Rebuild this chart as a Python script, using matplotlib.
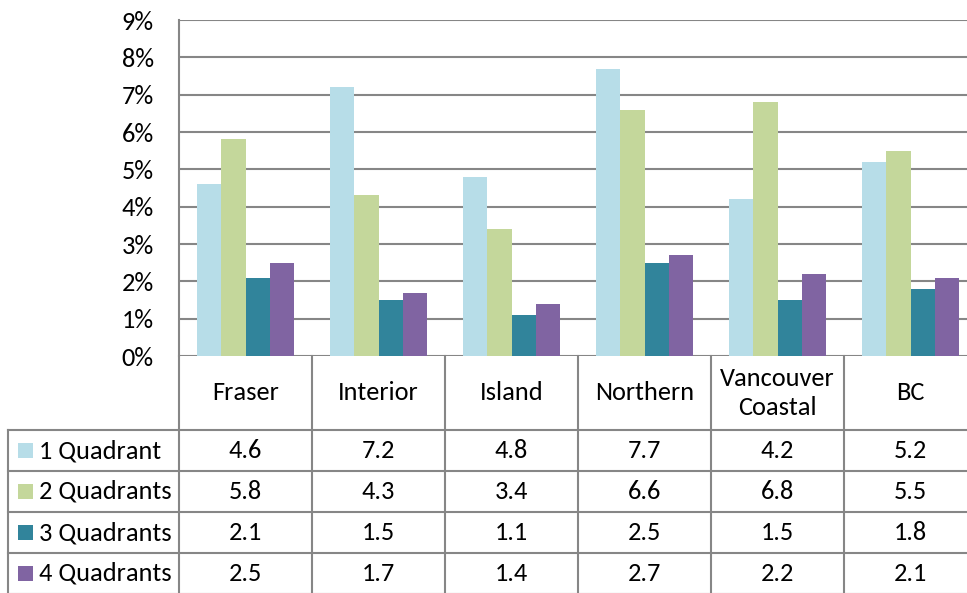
import matplotlib
matplotlib.use("Agg")
import matplotlib.pyplot as plt
from matplotlib.lines import Line2D
from matplotlib.transforms import blended_transform_factory
from matplotlib.ticker import FuncFormatter

plt.rcParams['font.family'] = ['Carlito', 'Lato', 'DejaVu Sans']

categories = ["Fraser", "Interior", "Island", "Northern", "Vancouver\nCoastal", "BC"]
series_names = ["1 Quadrant", "2 Quadrants", "3 Quadrants", "4 Quadrants"]
q1 = [4.6, 7.2, 4.8, 7.7, 4.2, 5.2]
q2 = [5.8, 4.3, 3.4, 6.6, 6.8, 5.5]
q3 = [2.1, 1.5, 1.1, 2.5, 1.5, 1.8]
q4 = [2.5, 1.7, 1.4, 2.7, 2.2, 2.1]
series = [q1, q2, q3, q4]
colors = ["#B7DDE8", "#C4D79B", "#31849B", "#8064A2"]
yticks = [0, 1, 2, 3, 4, 5, 6, 7, 8, 9]

W, H = 967, 593
fig = plt.figure(figsize=(W / 100, H / 100), dpi=100)

left_px, top_px, bottom_px, colw = 179, 20, 356, 133
ax = fig.add_axes([left_px / W, 1 - bottom_px / H, len(categories) * colw / W, (bottom_px - top_px) / H])

grid_c = "#868686"
fs = 19
bw = 0.183
n = len(series)
for k, (vals, c) in enumerate(zip(series, colors)):
    xs = [i + (k - (n - 1) / 2) * bw for i in range(len(categories))]
    ax.bar(xs, vals, width=bw, color=c, zorder=3, linewidth=0)

ax.set_xlim(-0.5, len(categories) - 0.5)
ax.set_ylim(0, 9)
ax.set_yticks(yticks)
ax.yaxis.set_major_formatter(FuncFormatter(lambda v, p: f"{int(v)}%"))
ax.set_xticks([])
ax.tick_params(axis='y', length=0, pad=18, labelsize=fs)
ax.grid(axis='y', color=grid_c, linewidth=1.5, zorder=0)
for s in ["top", "right", "bottom"]:
    ax.spines[s].set_visible(False)
ax.spines["left"].set_color(grid_c)
ax.spines["left"].set_linewidth(1.5)

# Data table
def fy(y):
    return 1 - y / H

bt = blended_transform_factory(ax.transData, fig.transFigure)
header_top, header_bot, row_h = 356, 430, 41
table_left = 8
ncat = len(categories)

# horizontal lines
for r in range(len(series) + 1):
    y = header_bot + r * row_h
    fig.add_artist(Line2D([table_left / W, 1.0], [fy(y), fy(y)], transform=fig.transFigure,
                          color=grid_c, linewidth=1.5))
# vertical lines
for i in range(ncat + 1):
    x = i - 0.5
    fig.add_artist(Line2D([x, x], [fy(header_top), 0], transform=bt, color=grid_c, linewidth=1.5))
fig.add_artist(Line2D([table_left / W, table_left / W], [fy(header_bot), 0], transform=fig.transFigure,
                      color=grid_c, linewidth=1.5))

# header text
for i, cat in enumerate(categories):
    fig.text(i, fy((header_top + header_bot) / 2), cat, transform=bt, ha='center', va='center',
             fontsize=fs, linespacing=1.35)

# rows
for r, (name, vals, c) in enumerate(zip(series_names, series, colors)):
    yc = header_bot + r * row_h + row_h / 2
    fig.patches.append(plt.Rectangle((18 / W, fy(yc + 7.5)), 15 / W, 15 / H, transform=fig.transFigure,
                                     facecolor=c, edgecolor='none'))
    fig.text(39 / W, fy(yc), name, ha='left', va='center', fontsize=fs)
    for i, v in enumerate(vals):
        fig.text(i, fy(yc), f"{v:.1f}", transform=bt, ha='center', va='center', fontsize=fs)

fig.savefig("out.png", dpi=100)
